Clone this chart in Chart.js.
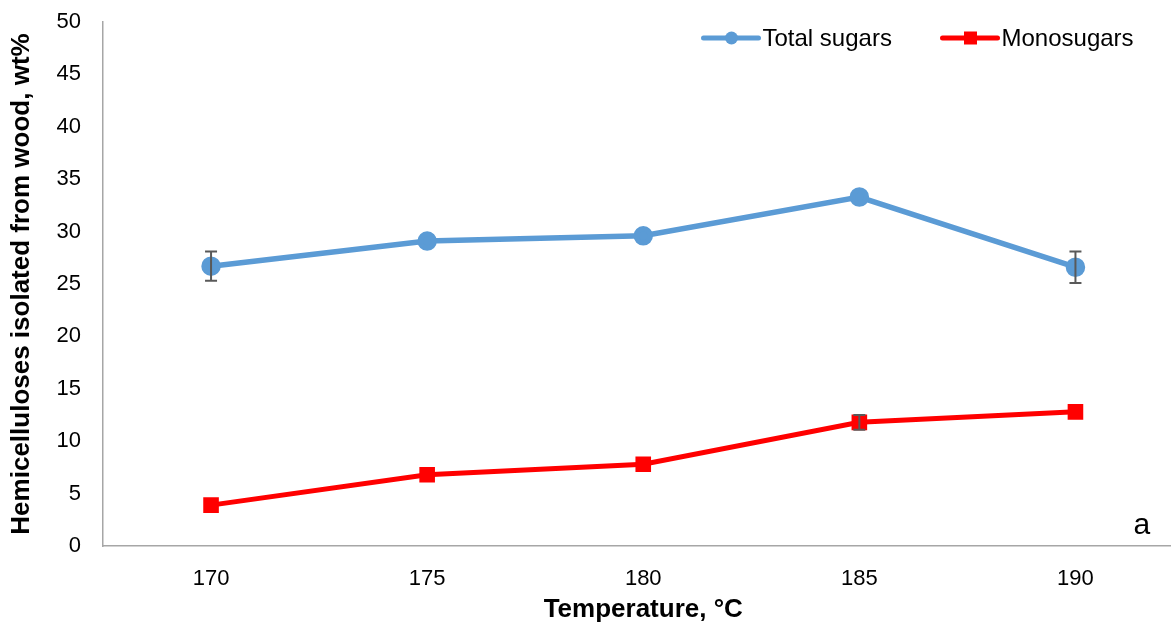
<!DOCTYPE html>
<html>
<head>
<meta charset="utf-8">
<script src="https://cdn.jsdelivr.net/npm/chart.js@4/dist/chart.umd.min.js"></script>
<style>
  html, body { margin: 0; padding: 0; background: #fff; overflow: hidden; }
  /* plot area runs a little past the right edge, as in the original figure */
  #wrap { width: 1196px; height: 625px; }
</style>
</head>
<body>
<div id="wrap"><canvas id="sugarChart"></canvas></div>
<script>
const temperatures = [170, 175, 180, 185, 190];
const totalSugars = [26.7, 29.1, 29.6, 33.3, 26.6];
const totalSugarsErr = [1.4, 0, 0, 0, 1.5];
const monoSugars = [3.9, 6.8, 7.8, 11.8, 12.8];
const monoSugarsErr = [0, 0, 0, 0.7, 0];
const yTicks = [0, 5, 10, 15, 20, 25, 30, 35, 40, 45, 50];

const blue = '#5B9BD5';
const red = '#FF0000';
const font = "'Liberation Sans', Arial, sans-serif";

// error bars drawn under the points
const errorBars = {
    id: 'errorBars',
    afterDatasetsDraw(chart) {
        const ctx = chart.ctx;
        const x = chart.scales.x, y = chart.scales.y;
        const sets = [[totalSugars, totalSugarsErr], [monoSugars, monoSugarsErr]];
        ctx.save();
        ctx.strokeStyle = '#595959';
        ctx.lineWidth = 2;
        sets.forEach(([vals, errs]) => {
            vals.forEach((v, i) => {
                if (!errs[i]) return;
                const px = x.getPixelForValue(temperatures[i]);
                const top = y.getPixelForValue(v + errs[i]);
                const bot = y.getPixelForValue(v - errs[i]);
                ctx.beginPath();
                ctx.moveTo(px, top); ctx.lineTo(px, bot);
                ctx.moveTo(px - 6, top); ctx.lineTo(px + 6, top);
                ctx.moveTo(px - 6, bot); ctx.lineTo(px + 6, bot);
                ctx.stroke();
            });
        });
        ctx.restore();
    }
};

// legend with line + marker, and the panel letter
const extras = {
    id: 'extras',
    afterDraw(chart) {
        const ctx = chart.ctx;
        const a = chart.chartArea;
        ctx.save();
        const items = [
            { label: 'Total sugars', color: blue, x: a.right - 483, style: 'circle' },
            { label: 'Monosugars', color: red, x: a.right - 244, style: 'square' }
        ];
        const ly = 38;
        ctx.font = '24px ' + font;
        ctx.textBaseline = 'middle';
        items.forEach(it => {
            ctx.strokeStyle = it.color;
            ctx.fillStyle = it.color;
            ctx.lineWidth = 5;
            ctx.lineCap = 'round';
            ctx.beginPath();
            ctx.moveTo(it.x + 3, ly); ctx.lineTo(it.x + 58, ly);
            ctx.stroke();
            if (it.style === 'circle') {
                ctx.beginPath();
                ctx.arc(it.x + 31, ly, 6.5, 0, Math.PI * 2);
                ctx.fill();
            } else {
                ctx.fillRect(it.x + 24.5, ly - 6.5, 13, 13);
            }
            ctx.fillStyle = '#000';
            ctx.fillText(it.label, it.x + 62, ly + 1);
        });
        ctx.font = '30px ' + font;
        ctx.fillStyle = '#000';
        ctx.fillText('a', a.right - 50, a.bottom - 20);
        ctx.restore();
    }
};

new Chart(document.getElementById('sugarChart'), {
    type: 'line',
    data: {
        datasets: [{
            label: 'Total sugars',
            data: temperatures.map((t, i) => ({ x: t, y: totalSugars[i] })),
            borderColor: blue,
            backgroundColor: blue,
            borderWidth: 5.5,
            pointStyle: 'circle',
            pointRadius: 7,
            pointHoverRadius: 7,
            tension: 0
        }, {
            label: 'Monosugars',
            data: temperatures.map((t, i) => ({ x: t, y: monoSugars[i] })),
            borderColor: red,
            backgroundColor: red,
            borderWidth: 5,
            pointStyle: 'rect',
            pointRadius: 7.5,
            pointHoverRadius: 7.5,
            tension: 0
        }]
    },
    options: {
        responsive: true,
        maintainAspectRatio: false,
        animation: false,
        layout: { padding: { top: 22, right: 3, left: 0, bottom: 0 } },
        plugins: {
            legend: { display: false },
            tooltip: { enabled: false }
        },
        scales: {
            x: {
                type: 'linear',
                min: 167.5,
                max: 192.5,
                afterBuildTicks: s => { s.ticks = temperatures.map(v => ({ value: v })); },
                afterFit: s => { s.height = 79; s.paddingLeft = 0; s.paddingRight = 0; },
                grid: { display: false, drawTicks: false },
                border: { color: '#A6A6A6', width: 1.5 },
                ticks: { color: '#000', font: { size: 22, family: font }, padding: 20 },
                title: {
                    display: true,
                    text: 'Temperature, °C',
                    color: '#000',
                    font: { size: 26, weight: 'bold', family: font },
                    padding: { top: 4, bottom: 0 }
                }
            },
            y: {
                min: 0,
                max: 50,
                afterBuildTicks: s => { s.ticks = yTicks.map(v => ({ value: v })); },
                afterFit: s => { s.width = 103; s.paddingTop = 0; s.paddingBottom = 0; },
                grid: { display: false, drawTicks: false },
                border: { color: '#A6A6A6', width: 1.5 },
                ticks: { color: '#000', font: { size: 22, family: font }, padding: 22 },
                title: {
                    display: true,
                    text: 'Hemicelluloses isolated from wood, wt%',
                    color: '#000',
                    font: { size: 26, weight: 'bold', family: font },
                    padding: { top: 6, bottom: 0 }
                }
            }
        }
    },
    plugins: [errorBars, extras]
});
</script>
</body>
</html>
